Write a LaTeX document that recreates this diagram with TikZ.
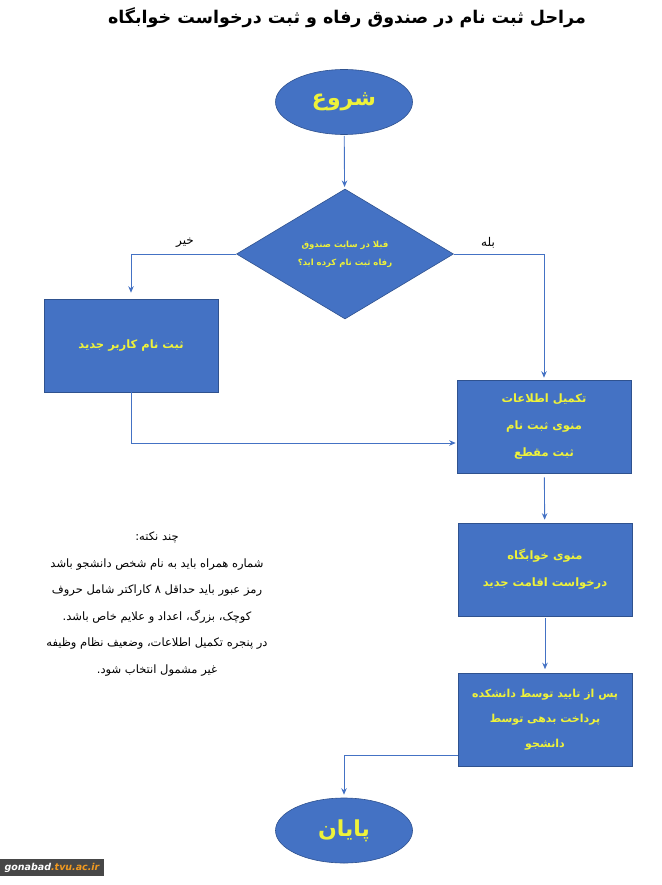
\documentclass[tikz,border=0pt]{standalone}
\usepackage{fontspec}
\TeXXeTstate=1
\newfontfamily\arabicfont[Script=Arabic]{DejaVu Sans}
\newfontfamily\wmfont{DejaVu Sans}
\newcommand{\pers}[1]{{\arabicfont\beginR #1\endR}}
\usetikzlibrary{arrows.meta}
\tikzset{>={Stealth[length=6.5pt,width=5.5pt]}}
\usetikzlibrary{shapes,positioning}
\definecolor{penColor}{HTML}{4472C4}
\definecolor{penColor2}{HTML}{2F528F}
\definecolor{textColor}{HTML}{EEF23A}
\definecolor{wmColor}{HTML}{F29A1F}
\colorlet{fill1}{penColor}
\colorlet{fill2}{black!72}

\begin{document}
\begin{tikzpicture}[x=1pt,y=-1pt,
    box/.style={draw=penColor2,fill=fill1,line width=.6pt,minimum width=174pt,
      minimum height=93pt,inner sep=0pt,align=center,text=textColor,
      font=\arabicfont\bfseries\fontsize{11.5}{27}\selectfont},
    term/.style={ellipse,draw=penColor2,fill=fill1,line width=.6pt,minimum width=137pt,
      minimum height=65pt,inner sep=0pt,text=textColor,
      font=\arabicfont\bfseries\fontsize{22}{26}\selectfont},
    decide/.style={diamond,draw=penColor2,fill=fill1,line width=.6pt,aspect=1.67,
      minimum width=217pt,minimum height=130pt,inner sep=0pt,align=center,
      text=textColor,font=\arabicfont\bfseries\fontsize{8.5}{18}\selectfont},
    conn/.style={->,draw=penColor,line width=.9pt},
    lbl/.style={font=\arabicfont\fontsize{12}{14}\selectfont}]
    \useasboundingbox (0,0) rectangle (661,885);

    \node[font=\arabicfont\bfseries\fontsize{17.5}{20}\selectfont] (title) at (347,18)
      {\pers{مراحل ثبت نام در صندوق رفاه و ثبت درخواست خوابگاه}};

    \node[term] (start) at (344,102) {\pers{شروع}};
    \node[decide] (ask) at (345,254)
      {\pers{قبلا در سایت صندوق}\\ \pers{رفاه ثبت نام کرده اید؟}};
    \node[box] (newuser) at (131,345.5) {\pers{ثبت نام کاربر جدید}};
    \node[box] (info) at (544,426.5)
      {\pers{تکمیل اطلاعات}\\ \pers{منوی ثبت نام}\\ \pers{ثبت مقطع}};
    \node[box] (dorm) at (545,569.5)
      {\pers{منوی خوابگاه}\\ \pers{درخواست اقامت جدید}};
    \node[box,font=\arabicfont\bfseries\fontsize{11}{25}\selectfont] (pay) at (545,720)
      {\pers{پس از تایید توسط دانشکده}\\ \pers{پرداخت بدهی توسط}\\ \pers{دانشجو}};
    \node[term] (finish) at (344,830.5) {\pers{پایان}};

    \node[lbl] (no) at (185,243) {\pers{خیر}};
    \node[lbl] (yes) at (488,243) {\pers{بله}};

    % notes
    \node[align=center,font=\arabicfont\fontsize{11.5}{26.5}\selectfont] (notes) at (157,604)
      {\pers{چند نکته:}\\
       \pers{شماره همراه باید به نام شخص دانشجو باشد}\\
       \pers{رمز عبور باید حداقل ۸ کاراکتر شامل حروف}\\
       \pers{کوچک، بزرگ، اعداد و علایم خاص باشد.}\\
       \pers{در پنجره تکمیل اطلاعات، وضعیف نظام وظیفه}\\
       \pers{غیر مشمول انتخاب شود.}};

    \draw[conn,shorten <=1pt,shorten >=2pt] (start) -- (ask);
    \draw[conn,shorten >=6pt] (ask.west) -| (newuser.north);
    \draw[conn,shorten >=2pt] (ask.east) -| (info.north);
    \draw[conn,shorten >=1pt] (newuser.south) |- ([yshift=-16.5pt]info.west);
    \draw[conn,shorten <=4pt,shorten >=3pt] (info) -- (dorm);
    \draw[conn,shorten <=2pt,shorten >=4pt] (dorm) -- (pay);
    \draw[conn,shorten >=3pt] ([yshift=-35pt]pay.west) -| (finish.north);

    % site mark
    \node[fill=fill2,minimum width=104pt,minimum height=17pt,inner sep=0pt,
      font=\wmfont\bfseries\itshape\fontsize{9.5}{10}\selectfont] (site) at (52,867.5)
      {\textcolor{white}{gonabad}\textcolor{wmColor}{.tvu.ac.ir}};
\end{tikzpicture}
\end{document}
